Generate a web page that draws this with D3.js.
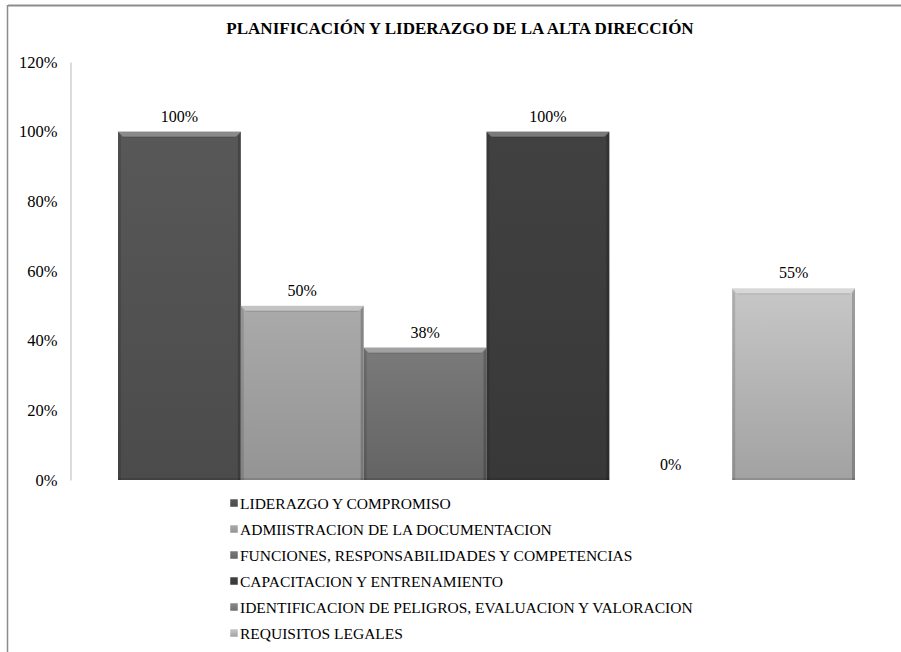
<!DOCTYPE html>
<html><head><meta charset="utf-8">
<script src="https://cdn.jsdelivr.net/npm/d3@7"></script>
<style>body{margin:0;background:#fff}svg{display:block}svg text{font-family:"Liberation Serif","Times New Roman",serif}</style>
</head><body>
<script>
const title = "PLANIFICACIÓN Y LIDERAZGO DE LA ALTA DIRECCIÓN";
const series = [
  "LIDERAZGO Y COMPROMISO",
  "ADMIISTRACION DE LA DOCUMENTACION",
  "FUNCIONES, RESPONSABILIDADES Y COMPETENCIAS",
  "CAPACITACION Y ENTRENAMIENTO",
  "IDENTIFICACION DE PELIGROS, EVALUACION Y VALORACION",
  "REQUISITOS LEGALES"
];
const values = [1.00, 0.50, 0.38, 1.00, 0.00, 0.55];
const dataLabels = ["100%", "50%", "38%", "100%", "0%", "55%"];
const yTicks = [0, 0.2, 0.4, 0.6, 0.8, 1.0, 1.2];
const colorsTop = ["#585858", "#aaaaaa", "#7a7a7a", "#414141", "#8a8a8a", "#c7c7c7"];
const colorsBot = ["#4b4b4b", "#949494", "#646464", "#383838", "#707070", "#a2a2a2"];

const W = 901, H = 652;
const svg = d3.select("body").append("svg").attr("width", W).attr("height", H);

// frame
svg.append("line").attr("x1", 8).attr("x2", W).attr("y1", 5.5).attr("y2", 5.5).attr("stroke", "#8c8c8c").attr("stroke-width", 2);
svg.append("line").attr("x1", 7.5).attr("x2", 7.5).attr("y1", 5).attr("y2", H).attr("stroke", "#8c8c8c").attr("stroke-width", 1.5);

svg.append("text").attr("x", 460).attr("y", 34).attr("text-anchor", "middle")
  .attr("font-weight", "bold").attr("font-size", 17).text(title);

const y = d3.scaleLinear().domain([0, 1.2]).range([480, 62]);
const x = d3.scaleBand().domain(series).range([118, 855]).padding(0);

const defs = svg.append("defs");
series.forEach((s, i) => {
  const g = defs.append("linearGradient").attr("id", "g" + i).attr("x1", 0).attr("y1", 0).attr("x2", 0).attr("y2", 1);
  g.append("stop").attr("offset", "0%").attr("stop-color", colorsTop[i]);
  g.append("stop").attr("offset", "100%").attr("stop-color", colorsBot[i]);
});

// axis
const yAxis = d3.axisLeft(y).tickValues(yTicks).tickFormat(d => Math.round(d * 100) + "%").tickSize(0).tickPadding(13);
const ax = svg.append("g").attr("transform", "translate(70.5,0)").call(yAxis);
ax.attr("font-family", null);
ax.select(".domain").attr("stroke", "#d0d0d0").attr("stroke-width", 1.5);
ax.selectAll("text").attr("font-size", 16.5).attr("fill", "#000");

// bars
const bars = svg.append("g");
series.forEach((s, i) => {
  const v = values[i];
  const x0 = x(s), w = x.bandwidth();
  const y0 = y(v), h = y(0) - y(v);
  const g = bars.append("g");
  if (h > 0.5) {
    const b = Math.min(5, h / 2);
    g.append("rect").attr("x", x0).attr("y", y0).attr("width", w).attr("height", h).attr("fill", `url(#g${i})`);
    g.append("polygon").attr("points", `${x0},${y0} ${x0 + w},${y0} ${x0 + w - b},${y0 + b} ${x0 + b},${y0 + b}`).attr("fill", "#fff").attr("opacity", 0.3);
    g.append("line").attr("x1", x0 + b).attr("x2", x0 + w - b).attr("y1", y0 + b + 0.5).attr("y2", y0 + b + 0.5).attr("stroke", "#000").attr("opacity", 0.12);
    g.append("polygon").attr("points", `${x0},${y0} ${x0 + 3},${y0 + b} ${x0 + 3},${y0 + h} ${x0},${y0 + h}`).attr("fill", "#000").attr("opacity", 0.12);
    g.append("polygon").attr("points", `${x0 + w},${y0} ${x0 + w - 3},${y0 + b} ${x0 + w - 3},${y0 + h} ${x0 + w},${y0 + h}`).attr("fill", "#000").attr("opacity", 0.2);
    g.append("rect").attr("x", x0).attr("y", y0 + h - 2).attr("width", w).attr("height", 2).attr("fill", "#000").attr("opacity", 0.12);
  }
  svg.append("text").attr("x", x0 + w / 2).attr("y", y0 - 10).attr("text-anchor", "middle")
    .attr("font-size", 16).attr("fill", "#000").text(dataLabels[i]);
});

// legend
const leg = svg.append("g");
series.forEach((s, i) => {
  const ly = 503 + i * 26;
  leg.append("rect").attr("x", 230).attr("y", ly - 4).attr("width", 8).attr("height", 8).attr("fill", `url(#g${i})`).attr("stroke", "#fff").attr("stroke-width", 0.5);
  leg.append("text").attr("x", 240).attr("y", ly + 5.5).attr("font-size", 15.5).attr("fill", "#000").text(s);
});
</script>
</body></html>
